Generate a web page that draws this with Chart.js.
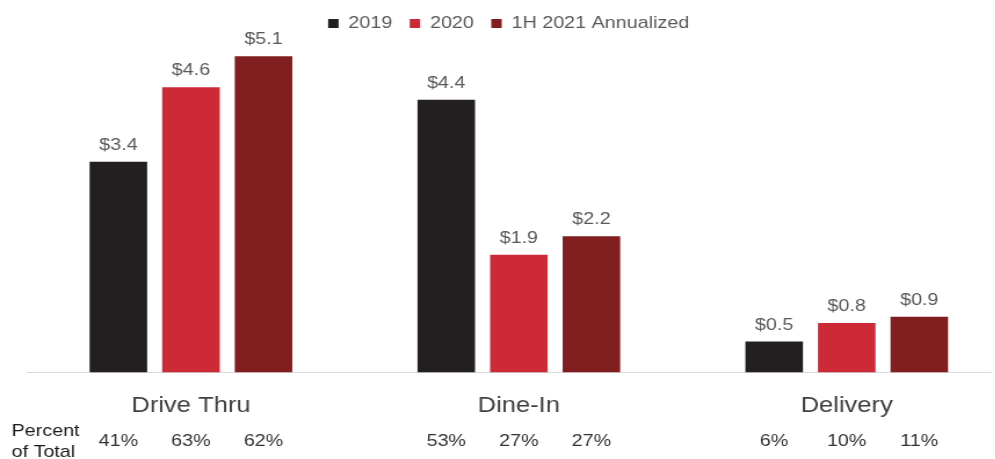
<!DOCTYPE html>
<html>
<head>
<meta charset="utf-8">
<script src="https://cdn.jsdelivr.net/npm/chart.js@4"></script>
<style>
  html, body { margin: 0; padding: 0; background: #fff; overflow: hidden; }
  /* el original esta estirado en horizontal, se reproduce con scaleX */
  #wrap { width: 858px; height: 459px; position: relative; transform: scaleX(1.16); transform-origin: 0 0; }
</style>
</head>
<body>
<div id="wrap"><canvas id="canalChart"></canvas></div>
<script>
// datos
const categorias = ['Drive Thru', 'Dine-In', 'Delivery'];
const series = ['2019', '2020', '1H 2021 Annualized'];
const valores2019 = [3.4, 4.4, 0.5];
const valores2020 = [4.6, 1.9, 0.8];
const valores2021 = [5.1, 2.2, 0.9];
const pct2019 = ['41%', '53%', '6%'];
const pct2020 = ['63%', '27%', '10%'];
const pct2021 = ['62%', '27%', '11%'];
const colores = ['#231f20', '#cc2a36', '#801e20'];

const FUENTE = '"Liberation Sans", Arial, Helvetica, sans-serif';

function puntos(vals) {
    return vals.map((v, i) => ({ x: i, y: v }));
}

// etiquetas $ encima de cada barra y % debajo del eje
const etiquetasPlugin = {
    id: 'etiquetas',
    afterDatasetsDraw(chart) {
        const ctx = chart.ctx;
        const pcts = [pct2019, pct2020, pct2021];
        ctx.save();
        ctx.textAlign = 'center';
        chart.data.datasets.forEach((ds, d) => {
            const meta = chart.getDatasetMeta(d);
            meta.data.forEach((bar, i) => {
                ctx.fillStyle = '#595959';
                ctx.font = '17px ' + FUENTE;
                ctx.textBaseline = 'bottom';
                ctx.fillText('$' + ds.data[i].y.toFixed(1), bar.x, bar.y - 8);
                ctx.fillStyle = '#333333';
                ctx.font = '17px ' + FUENTE;
                ctx.textBaseline = 'middle';
                ctx.fillText(pcts[d][i], bar.x, 441);
            });
        });
        ctx.textAlign = 'left';
        ctx.fillStyle = '#1a1a1a';
        ctx.font = '17px ' + FUENTE;
        ctx.textBaseline = 'middle';
        ctx.fillText('Percent', 10, 431);
        ctx.fillText('of Total', 10, 452);
        ctx.restore();
    }
};

const ctx = document.getElementById('canalChart').getContext('2d');
const canalChart = new Chart(ctx, {
    type: 'bar',
    data: {
        datasets: [
            { label: series[0], data: puntos(valores2019), backgroundColor: colores[0] },
            { label: series[1], data: puntos(valores2020), backgroundColor: colores[1] },
            { label: series[2], data: puntos(valores2021), backgroundColor: colores[2] }
        ]
    },
    options: {
        responsive: true,
        maintainAspectRatio: false,
        animation: false,
        categoryPercentage: 0.664,
        barPercentage: 0.793,
        layout: { padding: { left: 23, right: 4, top: 0, bottom: 20 } },
        scales: {
            x: {
                type: 'linear',
                offset: false,
                min: -0.501,
                max: 2.439,
                afterBuildTicks: (scale) => {
                    scale.ticks = categorias.map((c, i) => ({ value: i }));
                },
                ticks: {
                    padding: 20,
                    autoSkip: false,
                    maxRotation: 0,
                    callback: (v) => categorias[v],
                    font: { size: 22, family: FUENTE },
                    color: '#404040'
                },
                grid: { display: false, drawTicks: false, offset: false },
                border: { display: true, color: '#d9d9d9', width: 1 }
            },
            y: {
                display: false,
                min: 0,
                max: 5.33
            }
        },
        plugins: {
            legend: {
                position: 'top',
                labels: {
                    boxWidth: 9,
                    boxHeight: 9,
                    padding: 15,
                    font: { size: 17, family: FUENTE },
                    color: '#595959'
                }
            },
            tooltip: { enabled: false }
        }
    },
    plugins: [etiquetasPlugin]
});
</script>
</body>
</html>
